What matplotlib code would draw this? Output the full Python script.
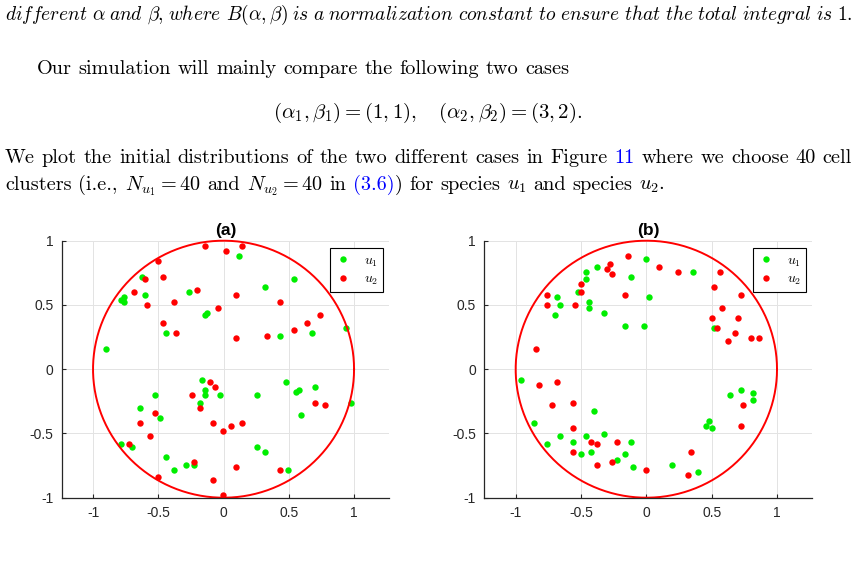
import numpy as np
import matplotlib
matplotlib.use('Agg')
import matplotlib.pyplot as plt

#---------------------FONT and other graphics------------------------
plt.rcParams['mathtext.fontset'] = 'cm'
plt.rcParams['axes.unicode_minus'] = False

#---------------------DATA------------------------
# (a)  alpha=1, beta=1
a_u1_x = [0.117, -0.627, -0.604, -0.782, -0.764, -0.764, -0.265, 0.318, 0.538, -0.145,
          -0.125, -0.443, 0.436, 0.678, 0.935, -0.904, -0.166, -0.145, -0.145, -0.025,
          -0.183, -0.525, 0.257, 0.476, 0.558, 0.578, 0.698, 0.978, 0.596, -0.642,
          -0.484, -0.782, -0.703, -0.443, -0.285, -0.224, -0.382, 0.257, 0.318, 0.497]
a_u1_y = [0.883, 0.721, 0.581, 0.542, 0.563, 0.521, 0.602, 0.641, 0.703, 0.422,
          0.440, 0.281, 0.260, 0.281, 0.320, 0.159, -0.081, -0.161, -0.201, -0.201,
          -0.260, -0.201, -0.201, -0.099, -0.180, -0.161, -0.141, -0.260, -0.359, -0.299,
          -0.380, -0.581, -0.602, -0.682, -0.742, -0.742, -0.781, -0.602, -0.643, -0.781]
a_u2_x = [-0.145, 0.015, 0.138, -0.502, -0.464, -0.604, -0.683, -0.583, -0.382, -0.204,
          0.097, -0.043, 0.436, -0.464, -0.362, 0.097, 0.336, 0.538, 0.637, 0.736,
          -0.104, -0.066, -0.245, -0.183, -0.525, -0.642, -0.563, -0.724, -0.084, -0.005,
          0.056, 0.138, 0.698, 0.777, -0.224, 0.097, 0.436, -0.502, -0.084, -0.005]
a_u2_y = [0.958, 0.922, 0.961, 0.841, 0.721, 0.703, 0.599, 0.503, 0.521, 0.620,
          0.581, 0.479, 0.521, 0.362, 0.281, 0.240, 0.260, 0.302, 0.359, 0.422,
          -0.099, -0.141, -0.201, -0.299, -0.341, -0.422, -0.521, -0.581, -0.422, -0.482,
          -0.440, -0.422, -0.260, -0.281, -0.721, -0.763, -0.781, -0.841, -0.862, -0.982]

# (b)  alpha=3, beta=2
b_u1_x = [0.000, -0.120, -0.380, -0.461, -0.461, -0.522, -0.680, -0.660, -0.701, -0.441,
          -0.441, -0.321, -0.161, -0.020, 0.020, 0.359, 0.520, -0.960, -0.400, -0.861,
          -0.762, -0.660, -0.561, -0.461, -0.321, -0.420, -0.502, -0.120, -0.161, -0.222,
          -0.102, 0.199, 0.397, 0.479, 0.459, 0.499, 0.639, 0.721, 0.820, 0.820]
b_u1_y = [0.859, 0.719, 0.799, 0.760, 0.701, 0.599, 0.560, 0.500, 0.419, 0.521,
          0.479, 0.440, 0.339, 0.339, 0.560, 0.760, 0.320, -0.081, -0.323, -0.422,
          -0.583, -0.521, -0.563, -0.521, -0.503, -0.643, -0.661, -0.563, -0.661, -0.703,
          -0.763, -0.742, -0.802, -0.401, -0.443, -0.461, -0.201, -0.161, -0.182, -0.242]
b_u2_x = [-0.140, -0.280, -0.301, -0.260, -0.502, -0.502, -0.762, -0.762, -0.543, -0.161,
          0.099, 0.239, 0.561, 0.520, 0.721, 0.581, 0.499, 0.540, 0.701, 0.680,
          0.622, 0.800, 0.859, -0.841, -0.823, -0.680, -0.721, -0.561, -0.561, -0.420,
          -0.380, -0.561, -0.222, -0.380, -0.260, 0.000, 0.339, 0.318, 0.739, 0.721]
b_u2_y = [0.880, 0.820, 0.779, 0.740, 0.661, 0.599, 0.581, 0.500, 0.500, 0.581,
          0.799, 0.760, 0.760, 0.641, 0.581, 0.479, 0.401, 0.320, 0.401, 0.279,
          0.219, 0.240, 0.240, 0.159, -0.120, -0.102, -0.281, -0.263, -0.461, -0.563,
          -0.581, -0.643, -0.563, -0.742, -0.724, -0.784, -0.643, -0.823, -0.281, -0.443]

ticks = [-1, -0.5, 0, 0.5, 1]
ticklabels = ['-1', '-0.5', '0', '0.5', '1']

#------------Figure Layout--------------
W, H = 857, 573
fig = plt.figure(figsize=(W/100., H/100.), dpi=100)
fig.patch.set_facecolor('white')

BODY = 14.6
rend = fig.canvas.get_renderer()

def txt_width(t):
    return t.get_window_extent(rend).width

def space_px(size):
    return 0.333 * size * 100 / 72.

def put_line(y, segs, x0, x1=None, size=BODY):
    # segs: (text, color, space before)
    ts = [fig.text(0, 1 - y/float(H), s, color=c, family='cmr10', fontsize=size,
                   va='baseline', ha='left') for s, c, sp in segs]
    ws = [txt_width(t) for t in ts]
    nsp = sum(1 for s, c, sp in segs[1:] if sp)
    gap = space_px(size)
    if x1 is not None and nsp > 0:
        gap = (x1 - x0 - sum(ws)) / float(nsp)
    x = x0
    for i, (t, w) in enumerate(zip(ts, ws)):
        if i > 0 and segs[i][2]:
            x += gap
        t.set_x(x/float(W))
        x += w
    return ts

def natural_width(segs, size, sp_frac=1.0):
    ts = [fig.text(0, 0, s, family='cmr10', fontsize=size) for s, c, sp in segs]
    w = sum(txt_width(t) for t in ts) + sp_frac * space_px(size) * sum(1 for s in segs[1:] if s[2])
    for t in ts:
        t.remove()
    return w

def words(s, color='black'):
    return [(w, color, True) for w in s.split(' ')]

line1 = words(r'$\mathit{different}$ $\alpha$ $\mathit{and}$ $\beta,$ $\mathit{where}$ $B(\alpha,\beta)$ '
              r'$\mathit{is}$ $\mathit{a}$ $\mathit{normalization}$ $\mathit{constant}$ $\mathit{to}$ '
              r'$\mathit{ensure}$ $\mathit{that}$ $\mathit{the}$ $\mathit{total}$ $\mathit{integral}$ '
              r'$\mathit{is}$ $1.$')
# math italic glyphs run wider than text italic: shrink that line until it fits
s1 = BODY
while natural_width(line1, s1, 0.6) > 847 and s1 > 8:
    s1 -= 0.2
put_line(20, line1, 5, 852, size=s1)
put_line(74, words('Our simulation will mainly compare the following two cases'), 37)
fig.text(428/float(W), 1 - 118/float(H),
         r'$(\alpha_1,\beta_1)=(1,1),\quad(\alpha_2,\beta_2)=(3,2).$',
         fontsize=BODY + 0.4, ha='center', va='baseline')
line4 = (words('We plot the initial distributions of the two different cases in Figure')
         + [('11', 'blue', True)] + words('where we choose 40 cell'))
put_line(163, line4, 5, 852)
line5 = (words(r'clusters (i.e., $N_{u_1}=40$ and $N_{u_2}=40$ in')
         + [('(3.6)', 'blue', True), (')', 'black', False)]
         + words(r'for species $u_1$ and species $u_2$.'))
put_line(190, line5, 5)

#PLOT
def panel(rect, title, u1x, u1y, u2x, u2y):
    ax = fig.add_axes(rect)
    ax.set_axisbelow(True)
    ax.grid(True, color='#e3e3e3', linewidth=0.7)
    ax.plot(u1x, u1y, 'o', color='#00ee00', markersize=4.6, markeredgewidth=0, label=r'$u_1$')
    ax.plot(u2x, u2y, 'o', color='#ff0000', markersize=4.6, markeredgewidth=0, label=r'$u_2$')
    th = np.linspace(0, 2*np.pi, 400)
    ax.plot(np.cos(th), np.sin(th), color='#ff0000', linewidth=1.4, clip_on=False)
    ax.set_xlim(-1.24, 1.27)
    ax.set_ylim(-1, 1)
    ax.set_xticks(ticks)
    ax.set_xticklabels(ticklabels)
    ax.set_yticks(ticks)
    ax.set_yticklabels(ticklabels)
    for s in ['top', 'right']:
        ax.spines[s].set_visible(False)
    for s in ['left', 'bottom']:
        ax.spines[s].set_color('#262626')
        ax.spines[s].set_linewidth(0.9)
    ax.tick_params(direction='in', length=3, width=0.8, color='#262626',
                   labelcolor='#262626', labelsize=10, pad=6)
    for lab in ax.get_xticklabels() + ax.get_yticklabels():
        lab.set_family('Liberation Sans')
    ax.set_title(title, fontsize=12.5, fontweight='bold', family='Liberation Sans', pad=4)
    leg = ax.legend(loc='upper right', bbox_to_anchor=(0.98, 0.97), fontsize=10,
                    fancybox=False, framealpha=1, edgecolor='black', handlelength=1.2,
                    handletextpad=0.9, borderpad=0.35, labelspacing=0.2, borderaxespad=0)
    leg.get_frame().set_linewidth(0.8)
    return ax

panel([61.7/W, 75.3/H, 327.6/W, 257.0/H], '(a)', a_u1_x, a_u1_y, a_u2_x, a_u2_y)
panel([484.3/W, 75.3/H, 328.0/W, 257.0/H], '(b)', b_u1_x, b_u1_y, b_u2_x, b_u2_y)

fig.savefig('out.png', dpi=100)
